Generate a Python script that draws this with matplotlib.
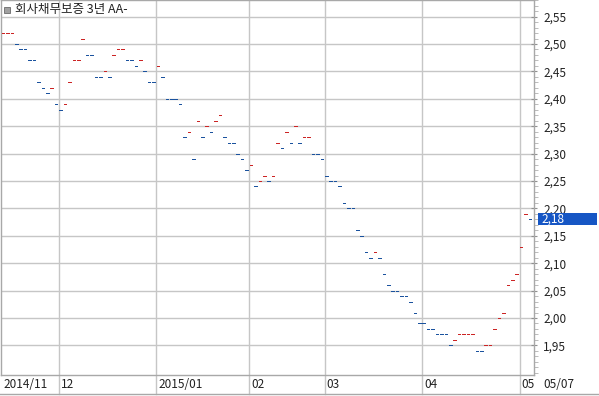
import numpy as np
import matplotlib
matplotlib.use('Agg')
import matplotlib.pyplot as plt
import matplotlib.transforms as mtransforms
from matplotlib.lines import Line2D
from matplotlib.patches import Rectangle
from matplotlib.ticker import MultipleLocator, FixedLocator, FuncFormatter

plt.rcParams['font.family'] = ['Noto Sans CJK KR', 'DejaVu Sans']

title = '회사채무보증 3년 AA-'

# daily rates (%), one per trading day, 2014/11 .. 2015/05/07
rates = [
    2.52, 2.52, 2.52, 2.50, 2.49, 2.49, 2.47, 2.47, 2.43, 2.42, 2.41, 2.42, 2.39,
    2.38, 2.39, 2.43, 2.47, 2.47, 2.51, 2.48, 2.48, 2.44, 2.44, 2.45, 2.44, 2.48,
    2.49, 2.49, 2.47, 2.47, 2.46, 2.47, 2.45, 2.43, 2.43,
    2.46, 2.44, 2.40, 2.40, 2.40, 2.39, 2.33, 2.34, 2.29, 2.36, 2.33, 2.35, 2.34,
    2.36, 2.37, 2.33, 2.32, 2.32, 2.30, 2.29, 2.27,
    2.28, 2.24, 2.25, 2.26, 2.25, 2.26, 2.32, 2.31, 2.34, 2.32, 2.35, 2.32, 2.33,
    2.33, 2.30, 2.30, 2.29,
    2.26, 2.25, 2.25, 2.24, 2.21, 2.20, 2.20, 2.16, 2.15, 2.12, 2.11, 2.12, 2.11,
    2.08, 2.06, 2.05, 2.05, 2.04, 2.04, 2.03, 2.01, 1.99,
    1.99, 1.98, 1.98, 1.97, 1.97, 1.97, 1.95, 1.96, 1.97, 1.97, 1.97, 1.97, 1.94,
    1.94, 1.95, 1.95, 1.98, 2.00, 2.01, 2.06, 2.07, 2.08,
    2.13, 2.19, 2.18,
]
month_labels = ['2014/11', '12', '2015/01', '02', '03', '04', '05']
month_start = [0, 13, 35, 56, 73, 95, 117]
last_date = '05/07'

up_color = '#cc2424'
down_color = '#1a529e'
grid_color = '#c6c6c6'
frame_color = '#a8a8a8'

# colour: red when the rate rose, blue when it fell, same colour when flat
colors = []
prev_c = up_color
for i, r in enumerate(rates):
    if i > 0 and r > rates[i - 1]:
        prev_c = up_color
    elif i > 0 and r < rates[i - 1]:
        prev_c = down_color
    colors.append(prev_c)

W, H = 599, 396
fig = plt.figure(figsize=(W / 100, H / 100), dpi=100)
ax = fig.add_axes([1 / W, 21 / H, 533 / W, 375 / H])

idx = np.arange(len(rates))
ax.hlines(rates, idx - 0.3, idx + 0.3, colors=colors, linewidth=0.7,
          antialiased=False, zorder=3)

px = 527 / 119
xmin = -2 / px
ax.set_xlim(xmin, xmin + 533 / px)
ax.set_ylim(2.50 - 331 / 548, 2.50 + 44 / 548)

# y axis on the right
ax.yaxis.tick_right()
ax.yaxis.set_major_locator(FixedLocator(np.round(np.arange(1.95, 2.551, 0.05), 2)))
ax.yaxis.set_minor_locator(MultipleLocator(0.01))
ax.yaxis.set_major_formatter(FuncFormatter(lambda v, p: f'{v:.2f}'.replace('.', ',')))
ax.tick_params(axis='y', which='major', direction='inout', length=5, width=0.8,
               color='#909090', labelsize=8.5, labelcolor='#222222', pad=4)
ax.tick_params(axis='y', which='minor', direction='out', length=3, width=0.6, color='#b0b0b0')
ax.set_xticks([])
ax.grid(axis='y', color=grid_color, linewidth=1)
ax.set_axisbelow(True)
for s in ax.spines.values():
    s.set_color(frame_color)
    s.set_linewidth(1)

# month separators running down through the label row
trans = mtransforms.blended_transform_factory(ax.transData, ax.transAxes)
for k, lab in zip(month_start, month_labels):
    if k > 0:
        ax.axvline(k - 0.35, ymin=-19 / 375, ymax=1, clip_on=False,
                   color=grid_color, linewidth=1, zorder=1)
    ax.text(k + 0.1, -9 / 375, lab, transform=trans, ha='left', va='center',
            fontsize=8.5, color='#222222')
fig.text(543 / W, (H - 384) / H, last_date, ha='left', va='center',
         fontsize=8.5, color='#222222')
fig.add_artist(Line2D([0, 1], [(H - 394) / H] * 2, color=frame_color, linewidth=1))

# last value marker on the right axis
ytrans = mtransforms.blended_transform_factory(ax.transAxes, ax.transData)
last = rates[-1]
ax.add_patch(Rectangle((537 / 533, last - 6 / 548), 59 / 533, 12 / 548,
                       transform=ytrans, facecolor='#1656c4', edgecolor='none',
                       clip_on=False, zorder=5))
ax.text(540 / 533, last, f'{last:.2f}'.replace('.', ','), transform=ytrans,
        ha='left', va='center', fontsize=8.5, color='white', zorder=6, clip_on=False)

# legend-like title
fig.add_artist(Rectangle((4 / W, (H - 13) / H), 6 / W, 6 / H, transform=fig.transFigure,
                         facecolor='#a0a0a0', edgecolor='#6a6a6a', linewidth=0.6))
fig.text(15 / W, (H - 9) / H, title, ha='left', va='center', fontsize=9, color='#222222')

fig.savefig('out.png', dpi=100)
